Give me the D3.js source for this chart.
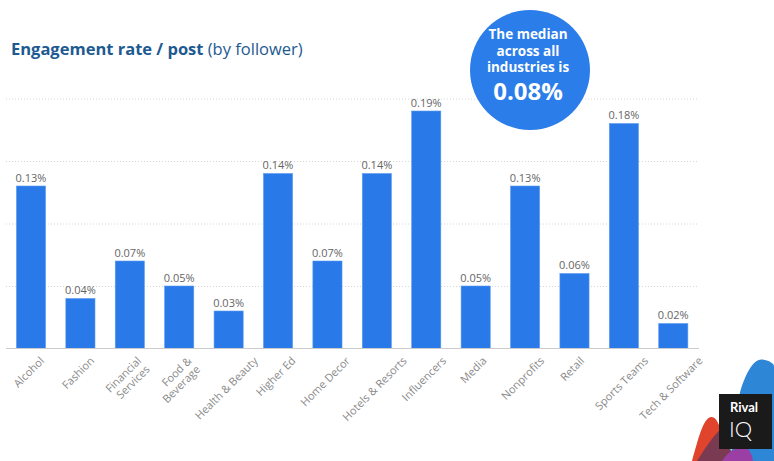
<!DOCTYPE html>
<html>
<head>
<meta charset="utf-8">
<script src="https://cdn.jsdelivr.net/npm/d3@7"></script>
<style>
  html, body { margin: 0; padding: 0; background: #ffffff; }
  svg { display: block; font-family: "Open Sans", "Noto Sans", sans-serif; }
</style>
</head>
<body>
<svg id="chart" width="774" height="461"></svg>
<script>
// Industries shown on the x axis ("\n" marks a wrapped label)
const categories = [
  "Alcohol", "Fashion", "Financial\nServices", "Food &\nBeverage", "Health & Beauty",
  "Higher Ed", "Home Decor", "Hotels & Resorts", "Influencers", "Media",
  "Nonprofits", "Retail", "Sports Teams", "Tech & Software"
];
// Engagement rate per post by follower, in percent
const rates = [0.13, 0.04, 0.07, 0.05, 0.03, 0.14, 0.07, 0.14, 0.19, 0.05, 0.13, 0.06, 0.18, 0.02];
// Horizontal gridline values
const gridTicks = [0.05, 0.10, 0.15, 0.20];
const medianRate = 0.08;

const svg = d3.select("#chart");
const blue = "#2979e8";
const fontFamily = "'Open Sans', 'Noto Sans', sans-serif";

const x = d3.scaleBand()
  .domain(categories)
  .range([6.3, 698])
  .paddingInner(0.41)
  .paddingOuter(0.205);

const y = d3.scaleLinear()
  .domain([0, 0.2])
  .range([348.5, 98.5]);

// Title
const title = svg.append("text")
  .attr("x", 11)
  .attr("y", 55)
  .attr("fill", "#1d5a91")
  .style("font-family", fontFamily)
  .style("font-size", "16.5px");
title.append("tspan").attr("font-weight", 700).text("Engagement rate / post");
title.append("tspan").attr("font-weight", 400).text(" (by follower)");

// Dotted gridlines
const grid = svg.append("g")
  .attr("transform", "translate(6,0)")
  .call(d3.axisLeft(y).tickValues(gridTicks).tickSize(-693).tickFormat(""));
grid.select(".domain").remove();
grid.selectAll(".tick line")
  .attr("stroke", "#d6d6d6")
  .attr("stroke-dasharray", "1,2");

// Bars
svg.append("g")
  .selectAll("rect")
  .data(categories)
  .join("rect")
  .attr("x", d => x(d))
  .attr("y", (d, i) => y(rates[i]))
  .attr("width", x.bandwidth())
  .attr("height", (d, i) => y(0) - y(rates[i]))
  .attr("fill", blue)
  .attr("stroke", "#5d9bf0")
  .attr("stroke-width", 0.6);

// Value labels
svg.append("g")
  .selectAll("text")
  .data(categories)
  .join("text")
  .attr("x", d => x(d) + x.bandwidth() / 2)
  .attr("y", (d, i) => y(rates[i]) - 4.5)
  .attr("text-anchor", "middle")
  .attr("fill", "#666666")
  .style("font-family", fontFamily)
  .style("font-size", "11px")
  .text((d, i) => d3.format(".2f")(rates[i]) + "%");

// Baseline and rotated category labels
const xAxis = svg.append("g")
  .attr("transform", `translate(0,${y(0)})`)
  .call(d3.axisBottom(x).tickSize(0).tickFormat(""));
xAxis.select(".domain")
  .attr("d", "M6,0H699")
  .attr("stroke", "#cccccc");

const labelSize = 11;
const lineHeight = 1.1 * labelSize;
const diag = Math.SQRT1_2;
xAxis.selectAll(".tick").each(function(d) {
  const lines = d.split("\n");
  const t = d3.select(this).append("text")
    .attr("text-anchor", "end")
    .attr("fill", "#8a8a8a")
    .style("font-family", fontFamily)
    .style("font-size", labelSize + "px");
  const spans = lines.map((line, k) => t.append("tspan")
    .attr("x", 0)
    .attr("dy", k === 0 ? 0 : lineHeight)
    .text(line));
  // Centre the rotated label block horizontally on its tick, top end at a fixed depth
  const widest = d3.max(spans, s => s.node().getComputedTextLength());
  const dx = diag * widest / 2 - diag * lineHeight * (lines.length - 1) / 2 + 0.5;
  t.attr("transform", `translate(${dx},13) rotate(-45)`);
});

// Median callout
const callout = svg.append("g").attr("transform", "translate(530,70)");
callout.append("circle").attr("r", 60).attr("fill", "#2b7de9");
const calloutLines = ["The median", "across all", "industries is"];
callout.selectAll("text.small")
  .data(calloutLines)
  .join("text")
  .attr("class", "small")
  .attr("x", -2)
  .attr("y", (d, i) => -31 + i * 16.5)
  .attr("text-anchor", "middle")
  .attr("fill", "#ffffff")
  .attr("font-weight", 700)
  .style("font-family", fontFamily)
  .style("font-size", "13.5px")
  .text(d => d);
callout.append("text")
  .attr("x", -2)
  .attr("y", 30)
  .attr("text-anchor", "middle")
  .attr("fill", "#ffffff")
  .attr("font-weight", 700)
  .style("font-family", fontFamily)
  .style("font-size", "24px")
  .text(d3.format(".2f")(medianRate) + "%");

// Brand mark in the lower right corner
const logo = svg.append("g");
logo.append("path")
  .attr("d", "M730,461 C735,430 735,400 745,378 C752,362 758,358 765,360 C770,361 774,364 774,366 L774,461 Z")
  .attr("fill", "#2e86d6");
logo.append("path")
  .attr("d", "M692,461 C698,440 703,418 711,417 C716,416 720,425 724,440 L730,461 Z")
  .attr("fill", "#e0442c");
logo.append("path")
  .attr("d", "M697,461 C706,447 713,436 722,428 L735,461 Z")
  .attr("fill", "#7a3a52");
logo.append("path")
  .attr("d", "M722,461 C728,452 735,447 745,448 C750,449 752,455 753,461 Z")
  .attr("fill", "#9b3fa5");
logo.append("rect")
  .attr("x", 719).attr("y", 394)
  .attr("width", 53).attr("height", 55)
  .attr("fill", "#1a1a1a");
logo.append("text")
  .attr("x", 730).attr("y", 412)
  .attr("fill", "#ffffff")
  .attr("font-weight", 700)
  .style("font-family", "Lato, 'Open Sans', sans-serif")
  .style("font-size", "13px")
  .text("Rival");
logo.append("text")
  .attr("x", 729).attr("y", 437)
  .attr("fill", "#ffffff")
  .attr("font-weight", 300)
  .style("font-family", "Lato, 'Open Sans', sans-serif")
  .style("font-size", "22px")
  .text("IQ");
</script>
</body>
</html>
